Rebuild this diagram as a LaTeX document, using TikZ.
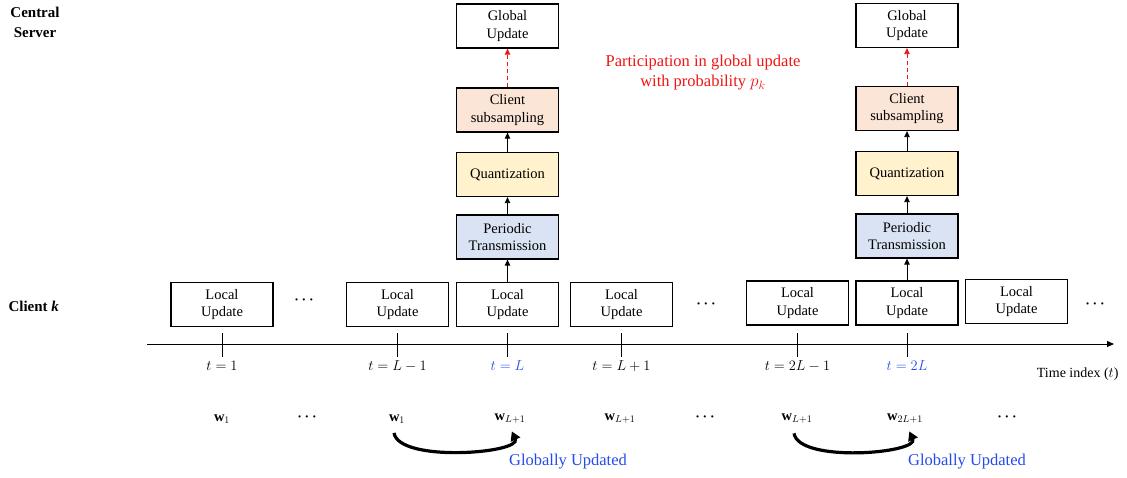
\documentclass[tikz,border=0pt]{standalone}
\usepackage{fontspec}
\setmainfont{Liberation Serif}
\usetikzlibrary{arrows.meta}
\definecolor{peach}{HTML}{FBE5D6}
\definecolor{lyellow}{HTML}{FFF2CC}
\definecolor{lblue}{HTML}{DAE3F3}
\definecolor{myred}{RGB}{240,20,20}
\definecolor{myblue}{RGB}{35,75,235}
\begin{document}
\begin{tikzpicture}[x=1pt,y=-1pt,
  box/.style={draw, line width=1.3pt, minimum width=102pt, minimum height=44pt, inner sep=1pt, align=center, font=\fontsize{14.5}{17.5}\selectfont},
  lbl/.style={font=\fontsize{15.5}{18}\selectfont},
  dts/.style={font=\fontsize{13.5}{16}\selectfont\boldmath},
  wl/.style={font=\fontsize{14.5}{17}\selectfont},
  up/.style={-{Triangle[length=6pt,width=5.5pt]}, line width=0.9pt},
  tick/.style={line width=0.9pt},
  curv/.style={line width=3.2pt, -{Triangle[length=9pt,width=10pt]}},
  bl/.style={text=myblue}
]
\useasboundingbox (0,0) rectangle (1127,477);
% side labels
\node[font=\fontsize{15}{20}\bfseries\selectfont, align=center] (cs) at (35,22) {Central\\Server};
\node[font=\fontsize{15}{20}\bfseries\selectfont, anchor=west] (ck) at (5,306) {Client \textbf{\textit{k}}};
% local update boxes
\node[box] (l1) at (222,304.5) {Local\\Update};
\node[box] (l2) at (397.5,304.5) {Local\\Update};
\node[box] (l3) at (507.5,304.5) {Local\\Update};
\node[box] (l4) at (621.5,304.5) {Local\\Update};
\node[box] (l5) at (797.5,303) {Local\\Update};
\node[box] (l6) at (907,303) {Local\\Update};
\node[box] (l7) at (1016.5,301.5) {Local\\Update};
\node[dts] (d1) at (304,300) {$\cdots$};
\node[dts] (d2) at (706,304) {$\cdots$};
\node[dts] (d3) at (1095,304) {$\cdots$};
% axis
\coordinate (ax0) at (147,344);
\coordinate (ax1) at (1114,344);
\draw[line width=1pt, -{Triangle[length=7pt,width=6pt]}] (ax0) -- (ax1);
\node[font=\fontsize{14}{16}\selectfont, anchor=north east] (ti) at (1122,364) {Time index ($t$)};
% ticks and labels
\foreach \n/\x/\t/\c in {a/222/{t=1}/black, b/397.5/{t=L-1}/black, c/507.5/{t=L}/myblue, d/621.5/{t=L+1}/black, e/797.5/{t=2L-1}/black, f/907/{t=2L}/myblue}{
  \coordinate (tt\n) at (\x,333);
  \coordinate (tb\n) at (\x,357);
  \draw[tick] (tt\n) -- (tb\n);
  \node[lbl, text=\c] (tl\n) at (\x,366) {$\t$};
}
% stack 1
\node[box, fill=lblue] (p1) at (507.5,237) {Periodic\\Transmission};
\node[box, fill=lyellow] (q1) at (507.5,174.5) {Quantization};
\node[box, fill=peach] (c1) at (507.5,110) {Client\\subsampling};
\node[box] (g1) at (507.5,26) {Global\\Update};
\draw[up] (l3) -- (p1);
\draw[up] (p1) -- (q1);
\draw[up] (q1) -- (c1);
\draw[up, myred, dashed, dash pattern=on 4pt off 3pt] (c1) -- (g1);
% stack 2
\node[box, fill=lblue] (p2) at (907,236) {Periodic\\Transmission};
\node[box, fill=lyellow] (q2) at (907,173.5) {Quantization};
\node[box, fill=peach] (c2) at (907,108.5) {Client\\subsampling};
\node[box] (g2) at (907,25.5) {Global\\Update};
\draw[up] (l6) -- (p2);
\draw[up] (p2) -- (q2);
\draw[up] (q2) -- (c2);
\draw[up, myred, dashed, dash pattern=on 4pt off 3pt] (c2) -- (g2);
% red note
\node[text=myred, align=center, font=\fontsize{16.5}{20}\selectfont] (note) at (703,73) {Participation in global update\\with probability $p_k$};
% weights
\node[wl] (w1) at (222,419) {$\mathbf{w}_1$};
\node[dts] (wd1) at (307,417) {$\cdots$};
\node[wl] (w2) at (397,419) {$\mathbf{w}_1$};
\node[wl] (w3) at (510,419) {$\mathbf{w}_{L+1}$};
\node[wl] (w4) at (620,419) {$\mathbf{w}_{L+1}$};
\node[dts] (wd2) at (705,417) {$\cdots$};
\node[wl] (w5) at (797,419) {$\mathbf{w}_{L+1}$};
\node[wl] (w6) at (905,419) {$\mathbf{w}_{2L+1}$};
\node[dts] (wd3) at (1007,417) {$\cdots$};
% curved arrows
\draw[curv] ([xshift=-3pt,yshift=-6pt]w2.south) .. controls +(5,30) and +(10,22) .. ([xshift=-17pt,yshift=-4pt]w3.south east);
\draw[curv] ([xshift=-3pt,yshift=-6pt]w5.south) .. controls +(5,30) and +(10,22) .. ([xshift=-17pt,yshift=-4pt]w6.south east);
\node[bl, font=\fontsize{16.5}{18}\selectfont] (gu1) at (568,462) {Globally Updated};
\node[bl, font=\fontsize{16.5}{18}\selectfont] (gu2) at (967,462) {Globally Updated};
\end{tikzpicture}
\end{document}
